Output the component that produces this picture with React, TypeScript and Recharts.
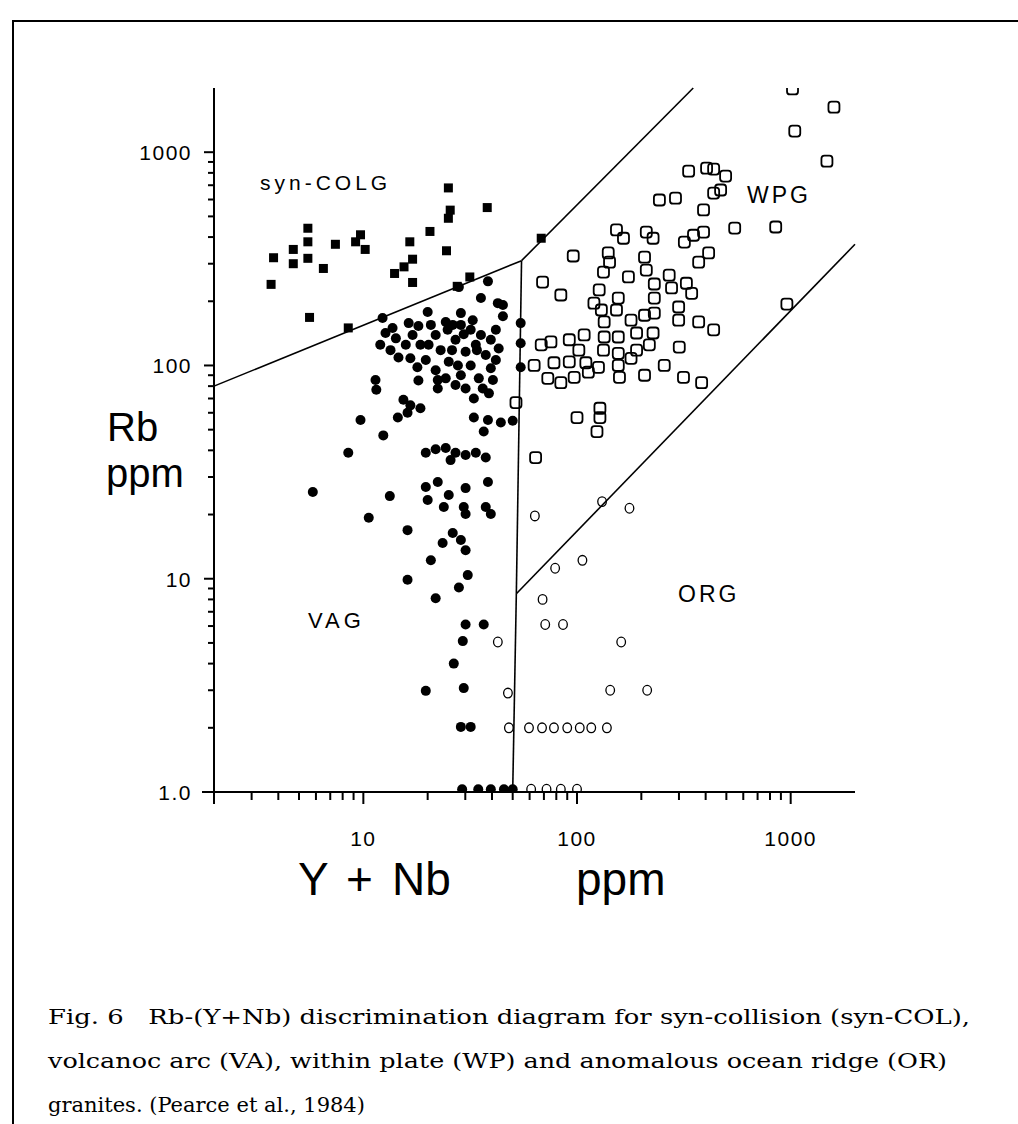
import React from 'react';
import { ScatterChart, Scatter, XAxis, YAxis, ReferenceLine } from 'recharts';

// axis ticks (log scale, minor ticks at every integer multiple)
const xTicks = [2, 3, 4, 5, 6, 7, 8, 9, 10, 20, 30, 40, 50, 60, 70, 80, 90, 100, 200, 300, 400, 500, 600, 700, 800, 900, 1000];
const yTicks = [1, 2, 3, 4, 5, 6, 7, 8, 9, 10, 20, 30, 40, 50, 60, 70, 80, 90, 100, 200, 300, 400, 500, 600, 700, 800, 900, 1000];
const xTickLabels: Record<number, string> = { 10: '10', 100: '100', 1000: '1000' };
const yTickLabels: Record<number, string> = { 1: '1.0', 10: '10', 100: '100', 1000: '1000' };

// field boundaries, [Y+Nb, Rb] end points
const boundaries: [number, number][][] = [
  [[2, 80], [55, 310]],
  [[55, 310], [350, 2000]],
  [[55, 310], [52, 8.5]],
  [[52, 8.5], [50, 1]],
  [[52, 8.5], [2000, 370]],
];

// syn-collision granites (filled squares)
const synColg: [number, number][] = [
  [25, 680], [25.5, 535], [25, 490], [38, 550], [20.5, 425], [24.5, 345], [16.5, 380], [17, 315],
  [15.5, 290], [14, 270], [17, 245], [3.8, 320], [3.7, 240], [4.7, 350], [4.7, 300], [5.5, 440],
  [5.5, 380], [5.5, 318], [6.5, 285], [7.4, 370], [9.7, 410], [10.2, 350], [9.2, 380], [5.6, 168],
  [8.5, 150], [27.5, 235], [31.5, 260], [68, 395],
];

// volcanic arc granites (filled circles)
const vag: [number, number][] = [
  [12.3, 167], [16.3, 158], [18.1, 153], [20, 178], [12.7, 142], [14.2, 134], [15.8, 125], [13.4, 118],
  [14.6, 109], [16.6, 108], [17.9, 98], [18.1, 85], [21.8, 139], [23, 118], [25.1, 104], [21.8, 95],
  [24.3, 87], [22.3, 78], [28, 233], [28.6, 176], [35.5, 207], [45, 192], [45, 170], [28.6, 155],
  [31.8, 147], [35.5, 139], [39.5, 132], [33.6, 125], [30.1, 116], [37.4, 112], [31.8, 100], [39.5, 97],
  [28.6, 90], [34.7, 87], [30.1, 78], [27, 132], [32.9, 70], [38.7, 74], [11.4, 85.5], [11.5, 77],
  [9.7, 55.5], [12.4, 47], [8.5, 39], [5.8, 25.5], [15.4, 69], [16.6, 65], [18.5, 63], [14.5, 57],
  [16.1, 60], [32.9, 57], [38.3, 55.5], [44, 54], [50, 55], [36.6, 49], [19.6, 39], [21.8, 40.5],
  [24.3, 41], [27, 39], [30.1, 38], [33.6, 39], [37.4, 37], [25.6, 36], [19.6, 26.9], [22.3, 28.4],
  [20, 23.4], [23.8, 21.7], [25.1, 24.7], [30.1, 26.6], [29.5, 21.7], [30.1, 20.1], [38.3, 28.4], [37.4, 21.7],
  [39.5, 20.1], [13.3, 24.4], [10.6, 19.3], [16.1, 16.9], [26.2, 16.4], [28.6, 15.2], [30.1, 13.6], [23.5, 14.7],
  [20.7, 12.2], [16.1, 9.9], [30.8, 10.4], [28, 9.1], [21.8, 8.1], [30.1, 6.1], [36.6, 6.1], [29.2, 5.1],
  [26.5, 4.0], [19.6, 2.98], [29.5, 3.07], [28.6, 2.02], [31.8, 2.02], [29, 1.03], [34.5, 1.03], [39.5, 1.03],
  [45.5, 1.03], [50, 1.03], [54.5, 158], [54.5, 127], [54.5, 98], [38.3, 248], [26.2, 155], [41.7, 147],
  [40.4, 85.5], [27, 81], [20.2, 125], [19.6, 106], [42.6, 196], [24.3, 160], [32.5, 163],
  [13.7, 150], [17, 139], [12, 125], [18.5, 125], [20.7, 155], [24.8, 147], [27.7, 100], [41.7, 106],
  [36.2, 78], [22.3, 85.5], [29.5, 140], [34, 118], [26, 118], [43, 120],
];

// within-plate granites (open squares)
const wpg: [number, number][] = [
  [243, 597], [289, 609], [391, 536], [436, 643], [547, 441], [153, 432], [165, 395], [211, 422],
  [227, 395], [318, 379], [351, 408], [391, 422], [413, 337], [371, 305], [96, 326], [140, 337],
  [142, 305], [207, 322], [133, 274], [174, 260], [211, 280], [230, 241], [270, 265], [325, 243],
  [69, 246], [84, 214], [127, 226], [120, 196], [156, 207], [230, 207], [277, 231], [344, 218],
  [130, 182], [153, 182], [179, 163], [207, 172], [230, 176], [299, 188], [299, 163], [371, 160],
  [436, 147], [134, 160], [134, 136], [156, 136], [190, 142], [227, 142], [218, 125], [68, 125],
  [75.5, 129], [92, 132], [108, 139], [102, 118], [133, 118], [156, 114], [190, 118], [301, 122],
  [63, 100], [78, 103], [92, 104], [110, 103], [126, 98], [156, 100], [179, 108], [256, 100],
  [73, 87], [84, 83], [97, 88], [113, 93], [158, 88], [207, 90], [315, 88], [383, 83],
  [1020, 1980], [1594, 1626], [1045, 1256], [1478, 908], [333, 815], [404, 842], [436, 833], [496, 773],
  [470, 665], [851, 446], [960, 194], [128, 63], [128, 57], [124, 49], [100, 57], [64, 37], [51.8, 67],
];

// ocean ridge granites (open circles)
const org: [number, number][] = [
  [63.5, 19.7], [131, 23], [176, 21.4], [79, 11.2], [106, 12.2], [69, 8.0], [71, 6.1], [86, 6.1],
  [161, 5.05], [143, 3.0], [213, 3.0], [47.5, 2.91], [42.6, 5.05], [48, 2.0], [59.6, 2.0], [68.6, 2.0],
  [78, 2.0], [90, 2.0], [103, 2.0], [116.6, 2.0], [138, 2.0], [61, 1.03], [72, 1.03], [84, 1.03], [100, 1.03],
];

const SANS = '"Liberation Sans", Arial, sans-serif';
const SERIF = '"DejaVu Serif", serif';
const INK = '#000';

const toPoints = (arr: [number, number][]) => arr.map(([x, y]) => ({ x, y }));

function XTick({ x, y, payload }: any) {
  const v = payload.value;
  const long = v === 2 || v === 10 || v === 100 || v === 1000;
  return (
    <g>
      <line x1={x} x2={x} y1={y} y2={y + (long ? 12 : 8)} stroke={INK} strokeWidth={2} />
      {xTickLabels[v] && (
        <text x={x} y={y + 54} textAnchor="middle" fontSize={21} letterSpacing={1.5} fontFamily={SANS} fill={INK}>
          {xTickLabels[v]}
        </text>
      )}
    </g>
  );
}

function YTick({ x, y, payload }: any) {
  const v = payload.value;
  const len = v === 1 ? 12 : v === 10 || v === 100 || v === 1000 ? 10 : 6;
  return (
    <g>
      <line x1={x - len} x2={x} y1={y} y2={y} stroke={INK} strokeWidth={2} />
      {yTickLabels[v] && (
        <text x={x - 22} y={y + 8} textAnchor="end" fontSize={21} letterSpacing={1.5} fontFamily={SANS} fill={INK}>
          {yTickLabels[v]}
        </text>
      )}
    </g>
  );
}

const FilledSquare = ({ cx, cy }: any) => <rect x={cx - 4.5} y={cy - 4.5} width={9} height={9} fill={INK} />;
const FilledCircle = ({ cx, cy }: any) => <circle cx={cx} cy={cy} r={5} fill={INK} />;
const OpenSquare = ({ cx, cy }: any) => (
  <rect x={cx - 5.5} y={cy - 5.5} width={11} height={11} rx={3} fill="none" stroke={INK} strokeWidth={1.8} />
);
const OpenCircle = ({ cx, cy }: any) => (
  <ellipse cx={cx} cy={cy} rx={4.3} ry={4.8} fill="none" stroke={INK} strokeWidth={1.3} />
);

export default function App() {
  return (
    <div style={{ position: 'relative', width: 1018, height: 1124, background: '#fff', overflow: 'hidden' }}>
      <style>{'body{margin:0;overflow:hidden;background:#fff}'}</style>
      <div style={{ position: 'absolute', left: 0, top: 0 }}>
        <ScatterChart width={1018} height={900} margin={{ top: 88, right: 163, bottom: 48, left: 134 }}>
          <XAxis
            type="number"
            dataKey="x"
            scale="log"
            domain={[2, 2000]}
            allowDataOverflow
            ticks={xTicks}
            interval={0}
            height={60}
            tickSize={0}
            tickMargin={0}
            tickLine={false}
            axisLine={{ stroke: INK, strokeWidth: 2 }}
            tick={<XTick />}
          />
          <YAxis
            type="number"
            dataKey="y"
            scale="log"
            domain={[1, 2000]}
            allowDataOverflow
            ticks={yTicks}
            interval={0}
            width={80}
            tickSize={0}
            tickMargin={0}
            tickLine={false}
            axisLine={{ stroke: INK, strokeWidth: 2 }}
            tick={<YTick />}
          />
          {boundaries.map((seg, i) => (
            <ReferenceLine
              key={i}
              segment={seg.map(([x, y]) => ({ x, y }))}
              stroke={INK}
              strokeWidth={1.6}
              ifOverflow="visible"
            />
          ))}
          <Scatter data={toPoints(synColg)} shape={<FilledSquare />} isAnimationActive={false} />
          <Scatter data={toPoints(vag)} shape={<FilledCircle />} isAnimationActive={false} />
          <Scatter data={toPoints(wpg)} shape={<OpenSquare />} isAnimationActive={false} />
          <Scatter data={toPoints(org)} shape={<OpenCircle />} isAnimationActive={false} />
        </ScatterChart>
      </div>
      <svg width={1018} height={1124} style={{ position: 'absolute', left: 0, top: 0, pointerEvents: 'none' }}>
        <line x1={13} y1={21} x2={1018} y2={21} stroke={INK} strokeWidth={2} />
        <line x1={13} y1={20} x2={13} y2={1124} stroke={INK} strokeWidth={2} />

        <text x={107} y={441} fontSize={40} fontFamily={SANS} fill={INK}>Rb</text>
        <text x={106} y={487} fontSize={40} fontFamily={SANS} fill={INK}>ppm</text>
        <text y={895} fontSize={46} fontFamily={SANS} fill={INK}>
          <tspan x={298}>Y</tspan>
          <tspan x={346}>+</tspan>
          <tspan x={392}>Nb</tspan>
          <tspan x={576}>ppm</tspan>
        </text>

        <text x={260} y={190} fontSize={21} letterSpacing={4} fontFamily={SANS} fill={INK}>syn-COLG</text>
        <text x={747} y={203} fontSize={23} letterSpacing={3} fontFamily={SANS} fill={INK}>WPG</text>
        <text x={308} y={628} fontSize={22} letterSpacing={4} fontFamily={SANS} fill={INK}>VAG</text>
        <text x={678} y={602} fontSize={23} letterSpacing={3} fontFamily={SANS} fill={INK}>ORG</text>

        <text x={48} y={1024} fontSize={21} fontFamily={SERIF} fill={INK} textLength={922} lengthAdjust="spacingAndGlyphs" style={{ whiteSpace: 'pre' }}>
          Fig. 6   Rb-(Y+Nb) discrimination diagram for syn-collision (syn-COL),
        </text>
        <text x={48} y={1068} fontSize={21} fontFamily={SERIF} fill={INK} textLength={899} lengthAdjust="spacingAndGlyphs">
          volcanoc arc (VA), within plate (WP) and anomalous ocean ridge (OR)
        </text>
        <text x={48} y={1112} fontSize={21} fontFamily={SERIF} fill={INK}>
          granites. (Pearce et al., 1984)
        </text>
      </svg>
    </div>
  );
}
